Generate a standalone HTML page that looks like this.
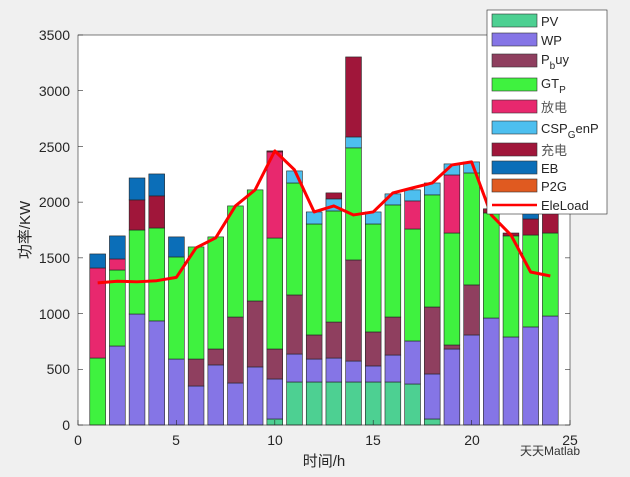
<!DOCTYPE html>
<html><head><meta charset="utf-8"><style>
body{margin:0;background:#f0f0f0;}
svg{display:block;font-family:"Liberation Sans","Noto Sans CJK SC",sans-serif;}
</style></head><body>
<svg id="s" width="630" height="477" xmlns="http://www.w3.org/2000/svg">
<rect x="0" y="0" width="630" height="477" fill="#f0f0f0"/>
<rect x="78" y="35" width="492" height="390" fill="#fff"/>
<g id="bars"></g>
<polyline id="line" fill="none" stroke="#ff0000" stroke-width="3" stroke-linejoin="round"/>
<rect x="78" y="35" width="492" height="390" fill="none" stroke="#262626" stroke-width="0.6"/>
<g id="ticks" stroke="#262626" stroke-width="0.6"></g>
<g font-size="14" fill="#262626" text-anchor="end">
<text x="70" y="430">0</text><text x="70" y="374">500</text><text x="70" y="319">1000</text>
<text x="70" y="263">1500</text><text x="70" y="207">2000</text><text x="70" y="152">2500</text>
<text x="70" y="96">3000</text><text x="70" y="40">3500</text>
</g>
<g font-size="14" fill="#262626" text-anchor="middle">
<text x="78" y="445">0</text><text x="176" y="445">5</text><text x="275" y="445">10</text>
<text x="373" y="445">15</text><text x="472" y="445">20</text><text x="570" y="445">25</text>
<text x="324" y="466" font-size="15">时间/h</text>
<text transform="translate(30,230) rotate(-90)" font-size="15">功率/KW</text>
</g>
<g>
<rect x="487" y="10" width="120" height="204" fill="#fff" stroke="#262626" stroke-width="0.6"/>
<g stroke="#333" stroke-width="0.6">
<rect x="492" y="14" width="45" height="13" fill="#4dd092"/>
<rect x="492" y="33" width="45" height="13" fill="#8575e6"/>
<rect x="492" y="54" width="45" height="13" fill="#8f3f5f"/>
<rect x="492" y="78" width="45" height="13" fill="#3ff23f"/>
<rect x="492" y="100" width="45" height="13" fill="#e8286e"/>
<rect x="492" y="121" width="45" height="13" fill="#4dbfef"/>
<rect x="492" y="143" width="45" height="13" fill="#a0163a"/>
<rect x="492" y="161" width="45" height="13" fill="#0b6eb8"/>
<rect x="492" y="179" width="45" height="13" fill="#e05a20"/>
</g>
<line x1="492" y1="205" x2="537" y2="205" stroke="#ff0000" stroke-width="2.5"/>
<g font-size="13" fill="#262626">
<text x="541" y="26">PV</text>
<text x="541" y="45">WP</text>
<text x="541" y="64">P<tspan font-size="10" dy="5">b</tspan><tspan dy="-5">uy</tspan></text>
<text x="541" y="88">GT<tspan font-size="10" dy="5">P</tspan></text>
<text x="541" y="112" fill="#555">放电</text>
<text x="541" y="133">CSP<tspan font-size="10" dy="5">G</tspan><tspan dy="-5">enP</tspan></text>
<text x="541" y="155" fill="#555">充电</text>
<text x="541" y="173">EB</text>
<text x="541" y="191">P2G</text>
<text x="541" y="210">EleLoad</text>
</g>
</g>
<text x="520" y="455" font-size="12" fill="#333">天天Matlab</text>
</svg>
<script>
var C=["#4dd092","#8575e6","#8f3f5f","#3ff23f","#e8286e","#4dbfef","#a0163a","#0b6eb8"];
// cumulative tops per bar: [PV,WP,Pbuy,GT,dis,CSP,chg,EB]
var T=[
[0,0,0,601,1409,1409,1409,1535],
[0,709,709,1391,1490,1490,1490,1697],
[0,996,996,1750,1750,1750,2020,2217],
[0,934,934,1768,1768,1768,2056,2253],
[0,592,592,1508,1508,1508,1508,1688],
[0,350,592,1598,1598,1598,1598,1598],
[0,539,682,1688,1688,1688,1688,1688],
[0,377,969,1966,1966,1966,1966,1966],
[0,521,1113,2110,2110,2110,2110,2110],
[54,413,682,1678,2451,2451,2460,2460],
[386,637,1167,2172,2172,2280,2280,2280],
[386,592,808,1804,1804,1912,1912,1912],
[386,601,924,1921,1921,2029,2083,2083],
[386,574,1481,2487,2487,2585,3303,3303],
[386,530,835,1804,1804,1912,1912,1912],
[386,628,969,1975,1975,2074,2074,2074],
[368,754,754,1759,2011,2110,2110,2110],
[54,458,1059,2065,2065,2172,2172,2172],
[0,682,718,1723,2244,2343,2343,2343],
[0,808,1257,2262,2262,2361,2361,2361],
[0,960,960,1903,1903,1903,1940,1940],
[0,790,790,1697,1697,1697,1723,1723],
[0,880,880,1705,1705,1705,1849,1900],
[0,978,978,1723,1723,1723,1903,1990]];
var L=[1275,1290,1285,1295,1325,1590,1680,1966,2110,2460,2290,1912,1966,1885,1912,2083,2128,2172,2334,2361,1885,1705,1373,1337];
function X(v){return 78+v*19.68}function Y(v){return 425-v*0.11143}
var g=document.getElementById('bars'),h='';
T.forEach(function(t,i){var prev=0,x=X(i+1)-7.9;
t.forEach(function(v,k){if(v>prev){h+='<rect x="'+x+'" y="'+Y(v)+'" width="15.8" height="'+(Y(prev)-Y(v))+'" fill="'+C[k]+'" stroke="#222" stroke-width="0.6"/>';}prev=Math.max(prev,v);});});
g.innerHTML=h;
document.getElementById('line').setAttribute('points',L.map(function(v,i){return X(i+1)+','+Y(v)}).join(' '));
var tk='';for(var i=0;i<=5;i++){var x=X(i*5);tk+='<line x1="'+x+'" y1="425" x2="'+x+'" y2="420"/>';}
for(var j=0;j<=7;j++){var y=Y(j*500);tk+='<line x1="78" y1="'+y+'" x2="83" y2="'+y+'"/><line x1="570" y1="'+y+'" x2="565" y2="'+y+'"/>';}
document.getElementById('ticks').innerHTML=tk;
</script>
</body></html>
